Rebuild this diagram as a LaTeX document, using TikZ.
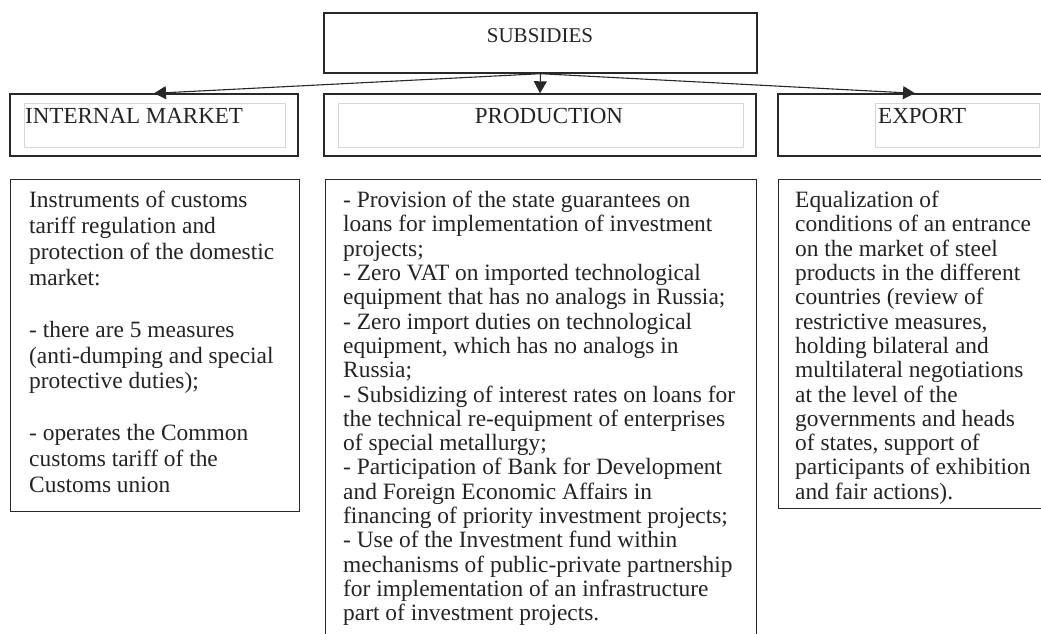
\documentclass[tikz,border=0pt]{standalone}
\usepackage{fontspec}
\setmainfont{Liberation Serif}
\usetikzlibrary{arrows.meta}

\definecolor{boxline}{RGB}{40,40,40}
\definecolor{innerline}{RGB}{215,215,215}
\definecolor{inktext}{RGB}{35,35,35}

\tikzset{
  hdr/.style={draw=boxline, line width=1.4pt, minimum height=62pt, inner sep=0pt},
  innerbox/.style={draw=innerline, line width=0.8pt, minimum height=44pt, inner sep=0pt},
  bodybox/.style={draw=boxline, line width=1.4pt, anchor=north west, inner sep=0pt},
  bodytext/.style={anchor=north west, align=left, inner sep=0pt, text=inktext,
    font=\fontsize{23.4}{24.3}\selectfont},
  captext/.style={anchor=base west, inner sep=0pt, text=inktext,
    font=\fontsize{23}{26.4}\selectfont},
  tip/.style={-{Triangle[length=12pt,width=13pt]}, line width=1.1pt, draw=boxline}
}

\begin{document}
\begin{tikzpicture}[x=1pt, y=-1pt]
  \useasboundingbox (0,0) rectangle (1041,633);

  % top box
  \node[hdr, minimum width=433pt, minimum height=60pt] (subs) at (540.5,43) {};
  \node[captext, anchor=base, font=\fontsize{21}{25}\selectfont] (substxt) at (540,42) {SUBSIDIES};

  % the three headings
  \node[hdr, minimum width=288pt] (inthdr) at (154,125) {};
  \node[innerbox, minimum width=261pt] (intin) at (154.5,125) {};
  \node[captext] (intcap) at (25,123) {INTERNAL MARKET};

  \node[hdr, minimum width=432pt] (prodhdr) at (540,125) {};
  \node[innerbox, minimum width=405pt] (prodin) at (540.5,125) {};
  \node[captext, anchor=base] (prodcap) at (549,123) {PRODUCTION};

  \node[hdr, minimum width=274pt] (exphdr) at (915,125) {};
  \node[innerbox, minimum width=164pt] (expin) at (957,125) {};
  \node[captext] (expcap) at (878,123) {EXPORT};

  \draw[tip] (subs.south) -- (inthdr.north);
  \draw[tip] (subs.south) -- (prodhdr.north);
  \draw[tip] (subs.south) -- (exphdr.north);

  % the three bodies
  \node[bodybox, minimum width=289pt, minimum height=332pt] (intbody) at (10,179) {};
  \node[bodytext, font=\fontsize{23.4}{25.9}\selectfont] (inttxt) at (29,191) {Instruments of customs\\
    tariff regulation and\\
    protection of the domestic\\
    market:\\[25.9pt]
    - there are 5 measures\\
    (anti-dumping and special\\
    protective duties);\\[25.9pt]
    - operates the Common\\
    customs tariff of the\\
    Customs union};

  \node[bodybox, minimum width=431pt, minimum height=480pt] (prodbody) at (325,179) {};
  \node[bodytext] (prodtxt) at (343,191) {- Provision of the state guarantees on\\
    loans for implementation of investment\\
    projects;\\
    - Zero VAT on imported technological\\
    equipment that has no analogs in Russia;\\
    - Zero import duties on technological\\
    equipment, which has no analogs in\\
    Russia;\\
    - Subsidizing of interest rates on loans for\\
    the technical re-equipment of enterprises\\
    of special metallurgy;\\
    - Participation of Bank for Development\\
    and Foreign Economic Affairs in\\
    financing of priority investment projects;\\
    - Use of the Investment fund within\\
    mechanisms of public-private partnership\\
    for implementation of an infrastructure\\
    part of investment projects.};

  \node[bodybox, minimum width=274pt, minimum height=329pt] (expbody) at (778,179) {};
  \node[bodytext] (exptxt) at (795,191) {Equalization of\\
    conditions of an entrance\\
    on the market of steel\\
    products in the different\\
    countries (review of\\
    restrictive measures,\\
    holding bilateral and\\
    multilateral negotiations\\
    at the level of the\\
    governments and heads\\
    of states, support of\\
    participants of exhibition\\
    and fair actions).};
\end{tikzpicture}
\end{document}
